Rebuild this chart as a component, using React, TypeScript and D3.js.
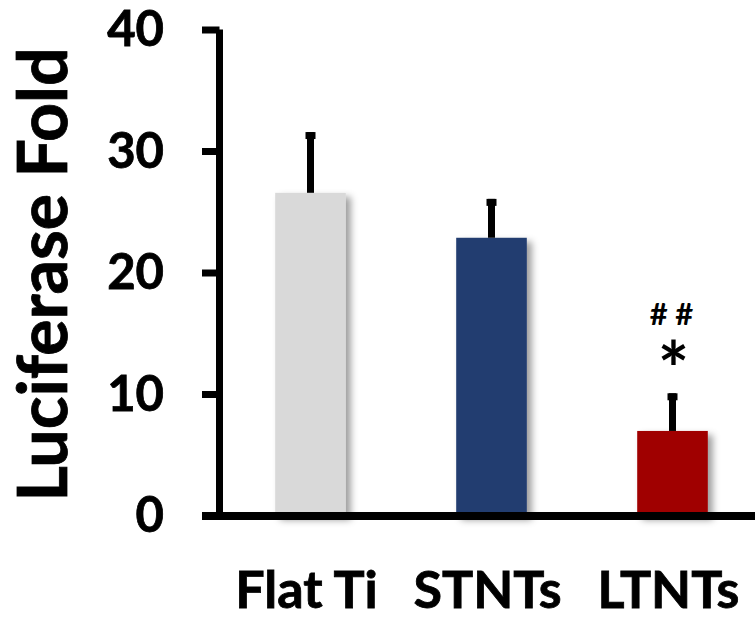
import React from "react";
import * as d3 from "d3";

const categories = ["Flat Ti", "STNTs", "LTNTs"];
const means = [26.6, 22.9, 7.0];
const errorTops = [31.6, 26.1, 10.1];
const barColors = ["#D9D9D9", "#203D70", "#A00000"];
const yTicks = [0, 10, 20, 30, 40];
const annotations = [
  { cat: "LTNTs", hash: "# #", star: "*" },
];

const W = 755;
const H = 619;
const FONT = "Lato, 'Open Sans', sans-serif";

export default function App() {
  const y = d3.scaleLinear().domain([0, 40]).range([516, 30]);
  const x = d3
    .scaleBand<string>()
    .domain(categories)
    .range([220, 763])
    .paddingInner(0.61)
    .paddingOuter(0.305);
  const bw = x.bandwidth();

  return (
    <svg
      width={W}
      height={H}
      style={{ position: "absolute", left: 0, top: 0, background: "#fff" }}
    >
      <defs>
        <filter id="shadow" x="-30%" y="-10%" width="160%" height="130%">
          <feDropShadow dx="5" dy="4" stdDeviation="3.5" floodColor="#000" floodOpacity="0.38" />
        </filter>
      </defs>
      <rect width={W} height={H} fill="#fff" />

      {/* bars */}
      {categories.map((c, i) => (
        <rect
          key={c}
          x={x(c)!}
          y={y(means[i])}
          width={bw}
          height={y(0) - y(means[i])}
          fill={barColors[i]}
          filter="url(#shadow)"
        />
      ))}

      {/* error bars */}
      {categories.map((c, i) => {
        const cx = x(c)! + bw / 2;
        return (
          <g key={"e" + c}>
            <line
              x1={cx}
              x2={cx}
              y1={y(means[i])}
              y2={y(errorTops[i])}
              stroke="#000"
              strokeWidth={7}
            />
            <line
              x1={cx - 5}
              x2={cx + 5}
              y1={y(errorTops[i]) + 3.5}
              y2={y(errorTops[i]) + 3.5}
              stroke="#000"
              strokeWidth={7}
            />
          </g>
        );
      })}

      {/* y axis */}
      <line x1={219.5} x2={219.5} y1={y(40) - 0.5} y2={y(0) + 4} stroke="#000" strokeWidth={7} />
      {yTicks.map((t) => (
        <g key={t}>
          <line x1={202} x2={219.5} y1={y(t)} y2={y(t)} stroke="#000" strokeWidth={7} />
          <text
            x={164}
            y={y(t)}
            dy="0.33em"
            textAnchor="end"
            fontFamily={FONT}
            fontWeight={700}
            fontSize={49}
            fill="#000"
            stroke="#000"
            strokeWidth={0.8}
          >
            {t}
          </text>
        </g>
      ))}

      {/* x axis */}
      <line x1={202} x2={W} y1={y(0)} y2={y(0)} stroke="#000" strokeWidth={8} />

      {/* x labels */}
      {categories.map((c) => (
        <text
          key={"l" + c}
          x={x(c)! + bw / 2 - 4}
          y={608}
          textAnchor="middle"
          fontFamily={FONT}
          fontWeight={700}
          fontSize={52}
          fill="#000"
          stroke="#000"
          strokeWidth={0.8}
        >
          {c}
        </text>
      ))}

      {/* y title */}
      <text
        transform={`translate(67, 274.5) rotate(-90)`}
        textAnchor="middle"
        fontFamily={FONT}
        fontWeight={700}
        fontSize={68}
        fill="#000"
        stroke="#000"
        strokeWidth={0.8}
      >
        Luciferase Fold
      </text>

      {/* significance marks */}
      {annotations.map((a) => {
        const cx = x(a.cat)! + bw / 2;
        return (
          <g key={"a" + a.cat}>
            <text
              x={cx - 1}
              y={325}
              textAnchor="middle"
              fontFamily={FONT}
              fontWeight={700}
              fontSize={31}
              fill="#000"
            >
              {a.hash}
            </text>
            <text
              x={cx + 1}
              y={396}
              textAnchor="middle"
              fontFamily={FONT}
              fontWeight={700}
              fontSize={74}
              fill="#000"
            >
              {a.star}
            </text>
          </g>
        );
      })}
    </svg>
  );
}
